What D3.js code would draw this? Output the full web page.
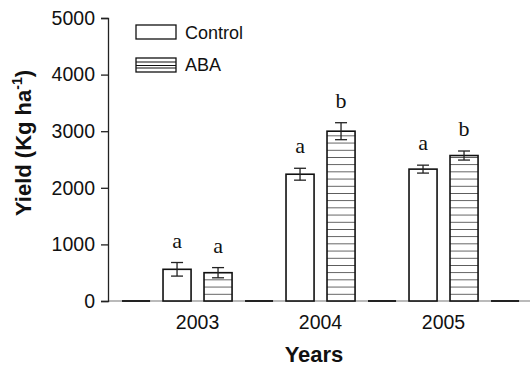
<!DOCTYPE html>
<html>
<head>
<meta charset="utf-8">
<script src="https://cdn.jsdelivr.net/npm/d3@7"></script>
<style>
  body { margin: 0; background: #fff; }
  text { font-family: "Liberation Sans", Arial, sans-serif; }
</style>
</head>
<body>
<div class="graphContainer"></div>
<script>
var width = 530;
var height = 366;

// data
var years = [2003, 2004, 2005];
var series = ["Control", "ABA"];
var controlMean = [560, 2240, 2330];
var controlErr = [120, 105, 70];
var abaMean = [500, 3000, 2570];
var abaErr = [90, 150, 80];
var controlLetters = ["a", "a", "a"];
var abaLetters = ["a", "b", "b"];
var yTicks = [0, 1000, 2000, 3000, 4000, 5000];

var svg = d3
  .select(".graphContainer")
  .append("svg")
  .attr("width", width)
  .attr("height", height);

var xScale = d3.scaleLinear().domain([2002.272, 2005.703]).range([108, 530]);
var yScale = d3.scaleLinear().domain([0, 5000]).range([301, 18]);

// each year takes three slots: control, aba, empty
var slot = 1 / 3;
var barHalf = 0.114;
var offsets = { Control: -slot / 2, ABA: slot / 2 };

// stripe pattern
var defs = svg.append("defs");
var pat = defs
  .append("pattern")
  .attr("id", "stripes")
  .attr("patternUnits", "userSpaceOnUse")
  .attr("width", 10)
  .attr("height", 7.2)
  .attr("y", yScale(0));
pat.append("rect").attr("width", 10).attr("height", 7.2).attr("fill", "#fff");
pat
  .append("line")
  .attr("x1", 0)
  .attr("x2", 10)
  .attr("y1", 0)
  .attr("y2", 0)
  .attr("stroke", "#111")
  .attr("stroke-width", 1.3);

var data = [];
years.forEach(function (yr, i) {
  data.push({ year: yr, s: "Control", v: controlMean[i], e: controlErr[i], l: controlLetters[i] });
  data.push({ year: yr, s: "ABA", v: abaMean[i], e: abaErr[i], l: abaLetters[i] });
});

// x axis line
svg
  .append("line")
  .attr("x1", xScale.range()[0])
  .attr("x2", xScale.range()[1])
  .attr("y1", yScale(0))
  .attr("y2", yScale(0))
  .attr("stroke", "#777")
  .attr("stroke-width", 1.2);

// empty slots drawn as flat black bars
var gaps = [years[0] - 0.5].concat(years.map((d) => d + 0.5));
svg
  .selectAll(".gap")
  .data(gaps)
  .enter()
  .append("line")
  .attr("class", "gap")
  .attr("x1", (d) => xScale(d - barHalf))
  .attr("x2", (d) => xScale(d + barHalf))
  .attr("y1", yScale(0))
  .attr("y2", yScale(0))
  .attr("stroke", "#111")
  .attr("stroke-width", 1.8);

// y axis
var yAxis = d3
  .axisLeft(yScale)
  .tickValues(yTicks)
  .tickFormat(d3.format("d"))
  .tickSize(7)
  .tickPadding(6);
var yAxisGroup = svg
  .append("g")
  .attr("id", "y-axis")
  .attr("transform", "translate(" + xScale.range()[0] + ",0)")
  .call(yAxis);
yAxisGroup.select(".domain").attr("stroke", "#222").attr("stroke-width", 1.3);
yAxisGroup.selectAll(".tick line").attr("stroke", "#222").attr("stroke-width", 1.3);
yAxisGroup
  .selectAll(".tick text")
  .style("font-size", "19.5px")
  .attr("fill", "#111")
  .style("font-family", "Liberation Sans, Arial, sans-serif");

// x tick labels
svg
  .selectAll(".xlab")
  .data(years)
  .enter()
  .append("text")
  .attr("class", "xlab")
  .attr("x", (d) => xScale(d))
  .attr("y", 329)
  .attr("text-anchor", "middle")
  .style("font-size", "19.5px")
  .attr("fill", "#111")
  .text((d) => d);

// bars
svg
  .selectAll(".bar")
  .data(data)
  .enter()
  .append("rect")
  .attr("class", "bar")
  .attr("x", (d) => xScale(d.year + offsets[d.s] - barHalf))
  .attr("width", (d) => xScale(d.year + barHalf) - xScale(d.year - barHalf))
  .attr("y", (d) => yScale(d.v))
  .attr("height", (d) => yScale(0) - yScale(d.v))
  .attr("fill", (d) => (d.s == "ABA" ? "url(#stripes)" : "#fff"))
  .attr("stroke", "#111")
  .attr("stroke-width", 1.6);

// error bars
var capHalf = 6;
var err = svg.selectAll(".err").data(data).enter().append("g").attr("class", "err");
err
  .append("line")
  .attr("x1", (d) => xScale(d.year + offsets[d.s]))
  .attr("x2", (d) => xScale(d.year + offsets[d.s]))
  .attr("y1", (d) => yScale(d.v - d.e))
  .attr("y2", (d) => yScale(d.v + d.e));
err
  .append("line")
  .attr("x1", (d) => xScale(d.year + offsets[d.s]) - capHalf)
  .attr("x2", (d) => xScale(d.year + offsets[d.s]) + capHalf)
  .attr("y1", (d) => yScale(d.v + d.e))
  .attr("y2", (d) => yScale(d.v + d.e));
err
  .append("line")
  .attr("x1", (d) => xScale(d.year + offsets[d.s]) - capHalf)
  .attr("x2", (d) => xScale(d.year + offsets[d.s]) + capHalf)
  .attr("y1", (d) => yScale(d.v - d.e))
  .attr("y2", (d) => yScale(d.v - d.e));
err.selectAll("line").attr("stroke", "#222").attr("stroke-width", 1.3);

// significance letters
svg
  .selectAll(".letter")
  .data(data)
  .enter()
  .append("text")
  .attr("class", "letter")
  .attr("x", (d) => xScale(d.year + offsets[d.s]))
  .attr("y", (d) => yScale(d.v + d.e) - 15)
  .attr("text-anchor", "middle")
  .style("font-family", "Liberation Serif, Times New Roman, serif")
  .style("font-size", "22px")
  .attr("fill", "#111")
  .text((d) => d.l);

// legend
var legend = svg.append("g").attr("id", "legend");
legend
  .selectAll("rect")
  .data(series)
  .enter()
  .append("rect")
  .attr("x", 136)
  .attr("y", (d, i) => 25 + i * 33)
  .attr("width", 40)
  .attr("height", 14)
  .attr("fill", "#fff")
  .attr("stroke", "#111")
  .attr("stroke-width", 1.3);
legend
  .selectAll(".stripe")
  .data([62, 65.5, 68])
  .enter()
  .append("line")
  .attr("class", "stripe")
  .attr("x1", 136)
  .attr("x2", 176)
  .attr("y1", (d) => d)
  .attr("y2", (d) => d)
  .attr("stroke", "#111")
  .attr("stroke-width", 1.1);
legend
  .selectAll("text")
  .data(series)
  .enter()
  .append("text")
  .attr("x", 185)
  .attr("y", (d, i) => 38.5 + i * 32)
  .style("font-size", "18px")
  .attr("fill", "#111")
  .text((d) => d);

// axis titles
svg
  .append("text")
  .attr("x", 314)
  .attr("y", 362)
  .attr("text-anchor", "middle")
  .style("font-size", "22px")
  .style("font-weight", "bold")
  .attr("fill", "#111")
  .text("Years");

var ylab = svg
  .append("text")
  .attr("transform", "translate(31,143) rotate(-90)")
  .attr("text-anchor", "middle")
  .style("font-size", "22px")
  .style("font-weight", "bold")
  .attr("fill", "#111");
ylab.append("tspan").text("Yield (Kg ha");
ylab.append("tspan").attr("dy", -9).style("font-size", "14px").text("-1");
ylab.append("tspan").attr("dy", 9).text(")");
</script>
</body>
</html>
